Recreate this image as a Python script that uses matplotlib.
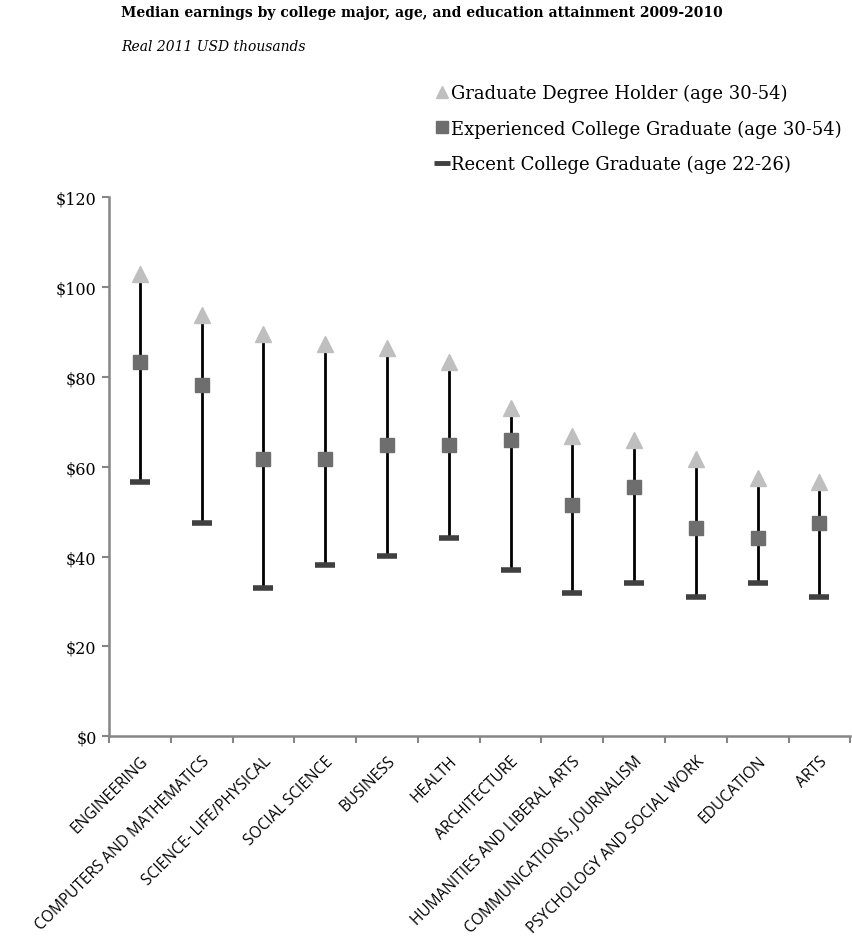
import matplotlib
matplotlib.use("Agg")
import matplotlib.pyplot as plt
import numpy as np
from matplotlib.lines import Line2D

categories = ["ENGINEERING", "COMPUTERS AND MATHEMATICS", "SCIENCE- LIFE/PHYSICAL",
              "SOCIAL SCIENCE", "BUSINESS", "HEALTH", "ARCHITECTURE",
              "HUMANITIES AND LIBERAL ARTS", "COMMUNICATIONS, JOURNALISM",
              "PSYCHOLOGY AND SOCIAL WORK", "EDUCATION", "ARTS"]
graduate = [103.0, 93.8, 89.6, 87.4, 86.5, 83.3, 73.2, 66.9, 65.9, 61.8, 57.6, 56.5]
experienced = [83.4, 78.3, 61.8, 61.8, 64.8, 64.9, 66.0, 51.5, 55.6, 46.3, 44.2, 47.4]
recent = [56.7, 47.4, 32.9, 38.2, 40.1, 44.2, 37.1, 31.9, 34.0, 30.9, 34.0, 30.9]
yticks = [0, 20, 40, 60, 80, 100, 120]
ytick_labels = ["$0", "$20", "$40", "$60", "$80", "$100", "$120"]
labels = ["Graduate Degree Holder (age 30-54)",
          "Experienced College Graduate (age 30-54)",
          "Recent College Graduate (age 22-26)"]

serif = "DejaVu Serif"
fig = plt.figure(figsize=(8.52, 9.45), dpi=100)
ax = fig.add_axes([0.128, 0.220, 0.870, 0.570])

x = np.arange(len(categories))
ax.vlines(x, recent, graduate, color="black", lw=2, zorder=1)
ax.plot(x, recent, ls="none", marker="_", ms=15, mew=4, color="#404040", zorder=2)
ax.plot(x, experienced, ls="none", marker="s", ms=10.5, color="#6E6E6E", zorder=3)
ax.plot(x, graduate, ls="none", marker="^", ms=12, color="#BFBFBF", zorder=3)

ax.set_xlim(-0.5, len(categories) - 0.5)
ax.set_ylim(0, 120)
ax.set_yticks(yticks)
ax.set_yticklabels(ytick_labels, fontfamily=serif, fontsize=11.5)
ax.set_xticks(x)
ax.set_xticklabels(categories, rotation=45, ha="right", rotation_mode="anchor",
                   fontfamily="Open Sans", fontsize=11.2)
ax.set_xticks(np.arange(-0.5, len(categories), 1), minor=True)
ax.tick_params(axis="x", which="major", length=0, pad=12)
ax.tick_params(axis="x", which="minor", length=5, color="#868686", width=1.5)
ax.tick_params(axis="y", length=5, color="#868686", width=1.5, pad=4)
for s in ["top", "right"]:
    ax.spines[s].set_visible(False)
for s in ["left", "bottom"]:
    ax.spines[s].set_color("#868686")
    ax.spines[s].set_linewidth(1.8)

fig.text(121 / 852, 1 - 13 / 945, "Median earnings by college major, age, and education attainment 2009-2010",
         fontfamily=serif, fontweight="bold", fontsize=10, va="center", ha="left")
fig.text(121 / 852, 1 - 47 / 945, "Real 2011 USD thousands",
         fontfamily=serif, fontstyle="italic", fontsize=10, va="center", ha="left")

handles = [
    Line2D([], [], ls="none", marker="^", ms=9, color="#BFBFBF"),
    Line2D([], [], ls="none", marker="s", ms=9, color="#6E6E6E"),
    Line2D([], [], ls="none", marker="_", ms=11, mew=3.5, color="#404040"),
]
fig.legend(handles, labels, loc="upper left", bbox_to_anchor=(437 / 852, 1 - 85 / 945),
           frameon=False, prop={"family": serif, "size": 13}, handlelength=0.6,
           handletextpad=0.15, labelspacing=0.95, borderpad=0, borderaxespad=0)

fig.savefig("out.png", dpi=100)
